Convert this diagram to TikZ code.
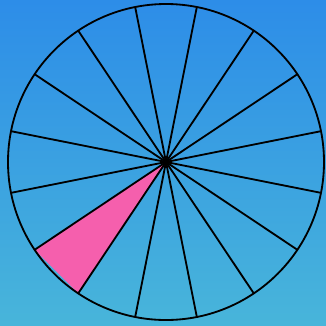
\documentclass[tikz,border=0pt]{standalone}
\usepackage{tikz}
\definecolor{skytop}{HTML}{2D8DE8}
\definecolor{skybot}{HTML}{48B5DA}
\definecolor{slicepink}{HTML}{F55FAD}
\tikzset{spoke/.style={black,line width=1.3pt}}
\begin{document}
\begin{tikzpicture}[x=0.025cm,y=0.025cm]
\shade[top color=skytop,bottom color=skybot] (0,0) rectangle (326,325);
\useasboundingbox (0,0) rectangle (326,325);
\begin{scope}[shift={(166,163)}]
\coordinate (c) at (0,0);
\foreach \k in {0,...,15} {\coordinate (p\k) at ({11.25+22.5*\k}:158);}
\fill[slicepink] (c) -- (p9) -- (p10) -- cycle;
\foreach \k in {0,...,15} {\draw[spoke] (c) -- (p\k);}
\draw[spoke] (c) circle (158);
\end{scope}
\end{tikzpicture}
\end{document}
